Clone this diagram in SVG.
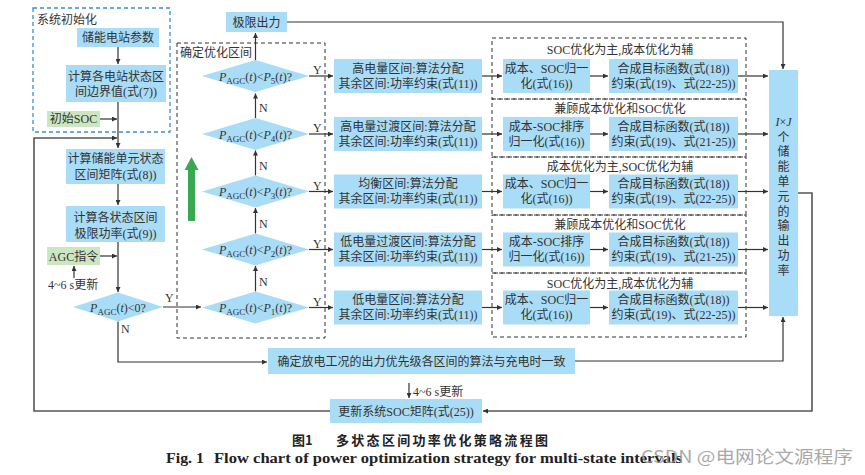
<svg xmlns="http://www.w3.org/2000/svg" width="865" height="475" viewBox="0 0 865 475">
<defs>
<style>
.box{fill:#a9dcf6}
.gbox{fill:#cde6c2}
.t{font-family:"Liberation Serif","Noto Sans CJK SC",serif;font-size:12px;fill:#333}
.c{text-anchor:middle}
.it{font-style:italic}
.sub{font-size:9px}
.ln{fill:none;stroke:#333;stroke-width:1.2}
.lg{fill:none;stroke:#555;stroke-width:1.6}
.dash{fill:none;stroke:#333;stroke-width:1;stroke-dasharray:4 3}
.bdash{fill:none;stroke:#3b8ed4;stroke-width:1.3;stroke-dasharray:4 3}
</style>
<marker id="ah" viewBox="0 0 10 10" refX="10" refY="5" markerWidth="6" markerHeight="5" markerUnits="userSpaceOnUse" orient="auto">
<path d="M0,0 L10,5 L0,10 z" fill="#333"/>
</marker>
</defs>
<rect width="865" height="475" fill="#fff"/>

<!-- group frames -->
<g id="init-group">
<rect class="bdash" x="33" y="8" width="137" height="124"/>
<text class="t" x="37" y="24">系统初始化</text>
</g>
<g id="interval-group">
<rect class="dash" x="177" y="43" width="148" height="295"/>
<text class="t" x="180" y="57">确定优化区间</text>
</g>
<g id="strategy-groups">
<rect class="dash" x="492" y="38" width="254" height="61"/>
<rect class="dash" x="492" y="99" width="254" height="58"/>
<rect class="dash" x="492" y="157" width="254" height="58"/>
<rect class="dash" x="492" y="215" width="254" height="58"/>
<rect class="dash" x="492" y="273" width="254" height="64"/>
<text class="t c" x="620" y="53.5">SOC优化为主,成本优化为辅</text>
<text class="t c" x="620" y="112.5">兼顾成本优化和SOC优化</text>
<text class="t c" x="620" y="170.5">成本优化为主,SOC优化为辅</text>
<text class="t c" x="620" y="228.5">兼顾成本优化和SOC优化</text>
<text class="t c" x="620" y="287.5">SOC优化为主,成本优化为辅</text>
</g>

<!-- connectors -->
<g id="connectors">
<path class="ln" d="M118,47 V64" marker-end="url(#ah)"/>
<path class="ln" d="M118,102 V148" marker-end="url(#ah)"/>
<path class="ln" d="M100,119 H117" marker-end="url(#ah)"/>
<path class="lg" d="M330,411 H34 V138 H117" marker-end="url(#ah)"/>
<path class="ln" d="M118,184 V205" marker-end="url(#ah)"/>
<path class="ln" d="M118,242 V292" marker-end="url(#ah)"/>
<path class="ln" d="M100,256 H117" marker-end="url(#ah)"/>
<path class="ln" d="M74,278 V266" marker-end="url(#ah)"/>
<path class="ln" d="M163,307 H201" marker-end="url(#ah)"/>
<path class="ln" d="M118,321.5 V362 H267" marker-end="url(#ah)"/>
<path class="ln" d="M255.5,291.5 V266" marker-end="url(#ah)"/>
<path class="ln" d="M255.5,233.5 V208" marker-end="url(#ah)"/>
<path class="ln" d="M255.5,175.5 V150.5" marker-end="url(#ah)"/>
<path class="ln" d="M255.5,118 V93.5" marker-end="url(#ah)"/>
<path class="ln" d="M255.5,61 V33" marker-end="url(#ah)"/>
<path class="ln" d="M287,22 H783 V69" marker-end="url(#ah)"/>
<path class="ln" d="M309,76 H333" marker-end="url(#ah)"/>
<path class="ln" d="M309,134 H333" marker-end="url(#ah)"/>
<path class="ln" d="M309,191.5 H333" marker-end="url(#ah)"/>
<path class="ln" d="M309,249.5 H333" marker-end="url(#ah)"/>
<path class="ln" d="M309,307.5 H333" marker-end="url(#ah)"/>
<path class="ln" d="M482,76 H502" marker-end="url(#ah)"/>
<path class="ln" d="M482,134 H502" marker-end="url(#ah)"/>
<path class="ln" d="M482,191.5 H502" marker-end="url(#ah)"/>
<path class="ln" d="M482,249.5 H502" marker-end="url(#ah)"/>
<path class="ln" d="M482,307.5 H502" marker-end="url(#ah)"/>
<path class="ln" d="M590,76 H608" marker-end="url(#ah)"/>
<path class="ln" d="M590,134 H608" marker-end="url(#ah)"/>
<path class="ln" d="M590,191.5 H608" marker-end="url(#ah)"/>
<path class="ln" d="M590,249.5 H608" marker-end="url(#ah)"/>
<path class="ln" d="M590,307.5 H608" marker-end="url(#ah)"/>
<path class="ln" d="M738,76 H768" marker-end="url(#ah)"/>
<path class="ln" d="M738,134 H768" marker-end="url(#ah)"/>
<path class="ln" d="M738,191.5 H768" marker-end="url(#ah)"/>
<path class="ln" d="M738,249.5 H768" marker-end="url(#ah)"/>
<path class="ln" d="M738,307.5 H768" marker-end="url(#ah)"/>
<path class="ln" d="M575,361 H783 V317" marker-end="url(#ah)"/>
<path class="lg" d="M798,193 H812 V411 H483" marker-end="url(#ah)"/>
<path class="ln" d="M409,383 V398" marker-end="url(#ah)"/>
<text class="t" x="165" y="302">Y</text>
<text class="t" x="121" y="333">N</text>
<text class="t" x="313" y="74">Y</text>
<text class="t" x="313" y="132">Y</text>
<text class="t" x="313" y="189.5">Y</text>
<text class="t" x="313" y="247.5">Y</text>
<text class="t" x="313" y="305.5">Y</text>
<text class="t" x="259" y="286">N</text>
<text class="t" x="259" y="228">N</text>
<text class="t" x="259" y="170">N</text>
<text class="t" x="259" y="112">N</text>
<text class="t" x="48" y="289">4~6 s更新</text>
<text class="t" x="413" y="396">4~6 s更新</text>
</g>

<!-- green direction arrow -->
<polygon points="188,221 195,221 195,170 198.5,170 191.5,157 184.5,170 188,170" fill="#39a852"/>

<!-- left column nodes -->
<g id="n-params">
<rect class="box" x="77" y="28" width="82" height="19"/>
<text class="t c" x="118" y="42">储能电站参数</text>
</g>
<g id="n-bounds">
<rect class="box" x="66" y="65" width="100" height="37"/>
<text class="t c" x="116" y="81">计算各电站状态区</text>
<text class="t c" x="116" y="96">间边界值(式(7))</text>
</g>
<g id="n-initsoc">
<rect class="gbox" x="47" y="111" width="53" height="16"/>
<text class="t c" x="73.5" y="123">初始SOC</text>
</g>
<g id="n-matrix">
<rect class="box" x="66" y="149" width="99" height="35"/>
<text class="t c" x="115.5" y="162.5">计算储能单元状态</text>
<text class="t c" x="115.5" y="178.5">区间矩阵(式(8))</text>
</g>
<g id="n-limit">
<rect class="box" x="66" y="206" width="99" height="36"/>
<text class="t c" x="115.5" y="221.5">计算各状态区间</text>
<text class="t c" x="115.5" y="238">极限功率(式(9))</text>
</g>
<g id="n-agc">
<rect class="gbox" x="47" y="247" width="53" height="18"/>
<text class="t c" x="73.5" y="260.5">AGC指令</text>
</g>
<g id="d-zero">
<polygon class="box" points="73,307 118,292.5 163,307 118,321.5"/>
<text class="t c" x="118" y="311.5" font-size="13"><tspan class="it">P</tspan><tspan class="sub" dy="3">AGC</tspan><tspan dy="-3">(</tspan><tspan class="it">t</tspan>)&lt;0?</text>
</g>

<!-- interval diamonds -->
<g id="d-p5">
<polygon class="box" points="202,76 255.5,60 309,76 255.5,92"/>
<text class="t c" x="255.5" y="80.5" font-size="13"><tspan class="it">P</tspan><tspan class="sub" dy="3">AGC</tspan><tspan dy="-3">(</tspan><tspan class="it">t</tspan>)&lt;<tspan class="it">P</tspan><tspan class="sub" dy="3">5</tspan><tspan dy="-3">(</tspan><tspan class="it">t</tspan>)?</text>
</g>
<g id="d-p4">
<polygon class="box" points="202,134 255.5,118 309,134 255.5,150"/>
<text class="t c" x="255.5" y="138.5" font-size="13"><tspan class="it">P</tspan><tspan class="sub" dy="3">AGC</tspan><tspan dy="-3">(</tspan><tspan class="it">t</tspan>)&lt;<tspan class="it">P</tspan><tspan class="sub" dy="3">4</tspan><tspan dy="-3">(</tspan><tspan class="it">t</tspan>)?</text>
</g>
<g id="d-p3">
<polygon class="box" points="202,191.5 255.5,175.5 309,191.5 255.5,207.5"/>
<text class="t c" x="255.5" y="196" font-size="13"><tspan class="it">P</tspan><tspan class="sub" dy="3">AGC</tspan><tspan dy="-3">(</tspan><tspan class="it">t</tspan>)&lt;<tspan class="it">P</tspan><tspan class="sub" dy="3">3</tspan><tspan dy="-3">(</tspan><tspan class="it">t</tspan>)?</text>
</g>
<g id="d-p2">
<polygon class="box" points="202,249.5 255.5,233.5 309,249.5 255.5,265.5"/>
<text class="t c" x="255.5" y="254" font-size="13"><tspan class="it">P</tspan><tspan class="sub" dy="3">AGC</tspan><tspan dy="-3">(</tspan><tspan class="it">t</tspan>)&lt;<tspan class="it">P</tspan><tspan class="sub" dy="3">2</tspan><tspan dy="-3">(</tspan><tspan class="it">t</tspan>)?</text>
</g>
<g id="d-p1">
<polygon class="box" points="202,307.5 255.5,291.5 309,307.5 255.5,323.5"/>
<text class="t c" x="255.5" y="312" font-size="13"><tspan class="it">P</tspan><tspan class="sub" dy="3">AGC</tspan><tspan dy="-3">(</tspan><tspan class="it">t</tspan>)&lt;<tspan class="it">P</tspan><tspan class="sub" dy="3">1</tspan><tspan dy="-3">(</tspan><tspan class="it">t</tspan>)?</text>
</g>
<g id="n-limitout">
<rect class="box" x="226" y="12" width="61" height="20"/>
<text class="t c" x="256.5" y="26.5">极限出力</text>
</g>

<!-- interval boxes -->
<g id="n-i5">
<rect class="box" x="334" y="59" width="148" height="34"/>
<text class="t c" x="408" y="72.5">高电量区间:算法分配</text>
<text class="t c" x="408" y="87.5">其余区间:功率约束(式(11))</text>
</g>
<g id="n-i4">
<rect class="box" x="334" y="117" width="148" height="34"/>
<text class="t c" x="408" y="130.5">高电量过渡区间:算法分配</text>
<text class="t c" x="408" y="145.5">其余区间:功率约束(式(11))</text>
</g>
<g id="n-i3">
<rect class="box" x="334" y="174.5" width="148" height="34"/>
<text class="t c" x="408" y="188">均衡区间:算法分配</text>
<text class="t c" x="408" y="203">其余区间:功率约束(式(11))</text>
</g>
<g id="n-i2">
<rect class="box" x="334" y="232.5" width="148" height="34"/>
<text class="t c" x="408" y="246">低电量过渡区间:算法分配</text>
<text class="t c" x="408" y="261">其余区间:功率约束(式(11))</text>
</g>
<g id="n-i1">
<rect class="box" x="334" y="290.5" width="148" height="34"/>
<text class="t c" x="408" y="304">低电量区间:算法分配</text>
<text class="t c" x="408" y="319">其余区间:功率约束(式(11))</text>
</g>

<!-- normalisation boxes -->
<g id="n-a1">
<rect class="box" x="503" y="59" width="87" height="34"/>
<text class="t c" x="546.5" y="72.5">成本、SOC归一</text>
<text class="t c" x="546.5" y="87.5">化(式(16))</text>
</g>
<g id="n-a2">
<rect class="box" x="503" y="117" width="87" height="34"/>
<text class="t c" x="546.5" y="130.5">成本-SOC排序</text>
<text class="t c" x="546.5" y="145.5">归一化(式(16))</text>
</g>
<g id="n-a3">
<rect class="box" x="503" y="174.5" width="87" height="34"/>
<text class="t c" x="546.5" y="188">成本、SOC归一</text>
<text class="t c" x="546.5" y="203">化(式(16))</text>
</g>
<g id="n-a4">
<rect class="box" x="503" y="232.5" width="87" height="34"/>
<text class="t c" x="546.5" y="246">成本-SOC排序</text>
<text class="t c" x="546.5" y="261">归一化(式(16))</text>
</g>
<g id="n-a5">
<rect class="box" x="503" y="290.5" width="87" height="34"/>
<text class="t c" x="546.5" y="304">成本、SOC归一</text>
<text class="t c" x="546.5" y="319">化(式(16))</text>
</g>

<!-- objective boxes -->
<g id="n-b1">
<rect class="box" x="609" y="59" width="129" height="34"/>
<text class="t c" x="673.5" y="72.5">合成目标函数(式(18))</text>
<text class="t c" x="673.5" y="87.5">约束(式(19)、式(22-25))</text>
</g>
<g id="n-b2">
<rect class="box" x="609" y="117" width="129" height="34"/>
<text class="t c" x="673.5" y="130.5">合成目标函数(式(18))</text>
<text class="t c" x="673.5" y="145.5">约束(式(19)、式(21-25))</text>
</g>
<g id="n-b3">
<rect class="box" x="609" y="174.5" width="129" height="34"/>
<text class="t c" x="673.5" y="188">合成目标函数(式(18))</text>
<text class="t c" x="673.5" y="203">约束(式(19)、式(22-25))</text>
</g>
<g id="n-b4">
<rect class="box" x="609" y="232.5" width="129" height="34"/>
<text class="t c" x="673.5" y="246">合成目标函数(式(18))</text>
<text class="t c" x="673.5" y="261">约束(式(19)、式(21-25))</text>
</g>
<g id="n-b5">
<rect class="box" x="609" y="290.5" width="129" height="34"/>
<text class="t c" x="673.5" y="304">合成目标函数(式(18))</text>
<text class="t c" x="673.5" y="319">约束(式(19)、式(22-25))</text>
</g>

<!-- output column -->
<g id="n-output">
<rect class="box" x="769" y="70" width="29" height="246"/>
<text class="t c" x="783.5" y="126"><tspan class="it">I</tspan>×<tspan class="it">J</tspan></text>
<text class="t c" x="783.5" y="141.5">个</text>
<text class="t c" x="783.5" y="156.3">储</text>
<text class="t c" x="783.5" y="171.1">能</text>
<text class="t c" x="783.5" y="185.9">单</text>
<text class="t c" x="783.5" y="200.7">元</text>
<text class="t c" x="783.5" y="215.5">的</text>
<text class="t c" x="783.5" y="230.3">输</text>
<text class="t c" x="783.5" y="245.1">出</text>
<text class="t c" x="783.5" y="259.9">功</text>
<text class="t c" x="783.5" y="274.7">率</text>
</g>

<!-- bottom nodes -->
<g id="n-discharge">
<rect class="box" x="268" y="348" width="307" height="26"/>
<text class="t c" x="421.5" y="365.5">确定放电工况的出力优先级各区间的算法与充电时一致</text>
</g>
<g id="n-update">
<rect class="box" x="330" y="399" width="152" height="24"/>
<text class="t c" x="406" y="415.5">更新系统SOC矩阵(式(25))</text>
</g>

<!-- caption -->
<g id="caption">
<text x="292" y="445" font-family="'Noto Sans CJK SC',sans-serif" font-weight="bold" font-size="13" fill="#222">图1</text>
<text x="336" y="445" font-family="'Noto Sans CJK SC',sans-serif" font-weight="bold" font-size="13" fill="#222" textLength="212" lengthAdjust="spacing">多状态区间功率优化策略流程图</text>
<text x="166" y="463" font-family="'Liberation Serif',serif" font-weight="bold" font-size="15" fill="#222" textLength="38" lengthAdjust="spacingAndGlyphs">Fig. 1</text>
<text x="214" y="463" font-family="'Liberation Serif',serif" font-weight="bold" font-size="15" fill="#222" textLength="468" lengthAdjust="spacingAndGlyphs">Flow chart of power optimization strategy for multi-state intervals</text>
<text x="641" y="463" font-family="'Noto Sans CJK SC','Liberation Sans',sans-serif" font-size="17" fill="#999" fill-opacity="0.85" textLength="212" lengthAdjust="spacingAndGlyphs">CSDN @电网论文源程序</text>
</g>
</svg>
